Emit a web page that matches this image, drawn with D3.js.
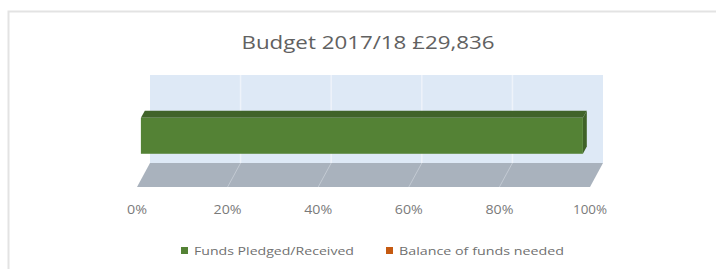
<!DOCTYPE html>
<html>
<head>
<meta charset="utf-8">
<script src="https://cdn.jsdelivr.net/npm/d3@7"></script>
<style>
  body { margin: 0; background: #fff; }
  text { font-family: "Open Sans", "Liberation Sans", sans-serif; fill: #595959; }
</style>
</head>
<body>
<div id="chart"></div>
<script>
// data
var categories = ["Budget 2017/18"];
var seriesNames = ["Funds Pledged/Received", "Balance of funds needed"];
var seriesColors = ["#548235", "#c55a11"];
var pledged = [29836];
var balance = [0];
var tickValues = [0, 0.2, 0.4, 0.6, 0.8, 1];
var chartTitle = "Budget 2017/18 £29,836";

var w = 716, h = 269;

var rows = categories.map(function(c, i) {
  return { cat: c, "Funds Pledged/Received": pledged[i], "Balance of funds needed": balance[i] };
});
var stacked = d3.stack().keys(seriesNames).offset(d3.stackOffsetExpand)(rows);

// 3d projection: depth 0 = front, 1 = back wall
var depthX = 13, depthY = -24;
var floorFront = 187, wallTop = 75;

var x = d3.scaleLinear().domain([0, 1]).range([137, 590]);
var xBar = d3.scaleLinear().domain([0, 1]).range([137, 579]);
var y = d3.scaleBand().domain(categories)
          .range([wallTop - depthY, floorFront])
          .padding(0.42);

function px(v, z, sc) { return (sc || x)(v) + z * depthX; }
function py(yy, z) { return yy + z * depthY; }

var svg = d3.select("#chart").append("svg")
            .attr("width", w)
            .attr("height", h);

// chart border
svg.append("rect")
   .attr("x", 8.5).attr("y", 11.5)
   .attr("width", 740).attr("height", 300)
   .attr("fill", "#fff")
   .attr("stroke", "#e3e3e3")
   .attr("stroke-width", 2);

// title
svg.append("text")
   .attr("x", 368).attr("y", 49)
   .attr("text-anchor", "middle")
   .attr("font-size", 18.5)
   .attr("textLength", 253)
   .attr("lengthAdjust", "spacingAndGlyphs")
   .style("fill", "#616161")
   .text(chartTitle);

// back wall
svg.append("rect")
   .attr("x", px(0, 1)).attr("y", wallTop)
   .attr("width", px(1, 1) - px(0, 1))
   .attr("height", py(floorFront, 1) - wallTop)
   .attr("fill", "#dee9f6");

svg.append("g").selectAll("line")
   .data(tickValues.slice(1, -1))
   .enter().append("line")
   .attr("x1", d => px(d, 1)).attr("x2", d => px(d, 1))
   .attr("y1", wallTop).attr("y2", py(floorFront, 1))
   .attr("stroke", "#eef3fa")
   .attr("stroke-width", 1.5);

// floor
var floorPts = [[px(0, 0), floorFront], [px(1, 0), floorFront],
                [px(1, 1), py(floorFront, 1)], [px(0, 1), py(floorFront, 1)]];
svg.append("polygon")
   .attr("points", floorPts.map(p => p.join(",")).join(" "))
   .attr("fill", "#a9b2bd");

svg.append("g").selectAll("line")
   .data(tickValues.slice(1, -1))
   .enter().append("line")
   .attr("x1", d => px(d, 0)).attr("y1", floorFront)
   .attr("x2", d => px(d, 1)).attr("y2", py(floorFront, 1))
   .attr("stroke", "#c3cad3")
   .attr("stroke-width", 1);

// bars
var z0 = 0.3, z1 = 0.6;
function shade(c, k) { return d3.color(c).darker(k).formatHex(); }

var segs = [];
stacked.forEach(function(s, si) {
  s.forEach(function(d, i) {
    if (d[1] - d[0] > 0) segs.push({ s: si, cat: categories[i], v0: d[0], v1: d[1] });
  });
});

var barG = svg.append("g");
segs.forEach(function(d) {
  var col = seriesColors[d.s];
  var yt = y(d.cat), yb = y(d.cat) + y.bandwidth();
  var xl0 = px(d.v0, z0, xBar), xr0 = px(d.v1, z0, xBar);
  var xl1 = px(d.v0, z1, xBar), xr1 = px(d.v1, z1, xBar);
  // top face
  barG.append("polygon")
      .attr("points", [[xl0, py(yt, z0)], [xr0, py(yt, z0)], [xr1, py(yt, z1)], [xl1, py(yt, z1)]].map(p => p.join(",")).join(" "))
      .attr("fill", shade(col, 0.75));
  // side face
  barG.append("polygon")
      .attr("points", [[xr0, py(yt, z0)], [xr1, py(yt, z1)], [xr1, py(yb, z1)], [xr0, py(yb, z0)]].map(p => p.join(",")).join(" "))
      .attr("fill", shade(col, 0.8));
  // front face
  barG.append("rect")
      .attr("x", xl0).attr("y", py(yt, z0))
      .attr("width", xr0 - xl0).attr("height", yb - yt)
      .attr("fill", col);
});

// axis labels
svg.append("g").selectAll("text")
   .data(tickValues)
   .enter().append("text")
   .attr("x", d => x(d)).attr("y", 214)
   .attr("text-anchor", "middle")
   .attr("font-size", 12)
   .attr("textLength", d => d === 1 ? 34 : (d === 0 ? 20 : 28))
   .attr("lengthAdjust", "spacingAndGlyphs")
   .style("fill", "#7a7a7a")
   .text(d => d3.format(".0%")(d));

// legend
var legendX = [181, 386];
var legendW = [160, 165];
var leg = svg.append("g").selectAll("g")
   .data(seriesNames)
   .enter().append("g")
   .attr("transform", (d, i) => "translate(" + legendX[i] + ",247)");
leg.append("rect")
   .attr("width", 7).attr("height", 7)
   .attr("fill", (d, i) => seriesColors[i]);
leg.append("text")
   .attr("x", 13).attr("y", 8)
   .attr("font-size", 11.5)
   .attr("textLength", (d, i) => legendW[i])
   .attr("lengthAdjust", "spacingAndGlyphs")
   .style("fill", "#707070")
   .text(d => d);
</script>
</body>
</html>
